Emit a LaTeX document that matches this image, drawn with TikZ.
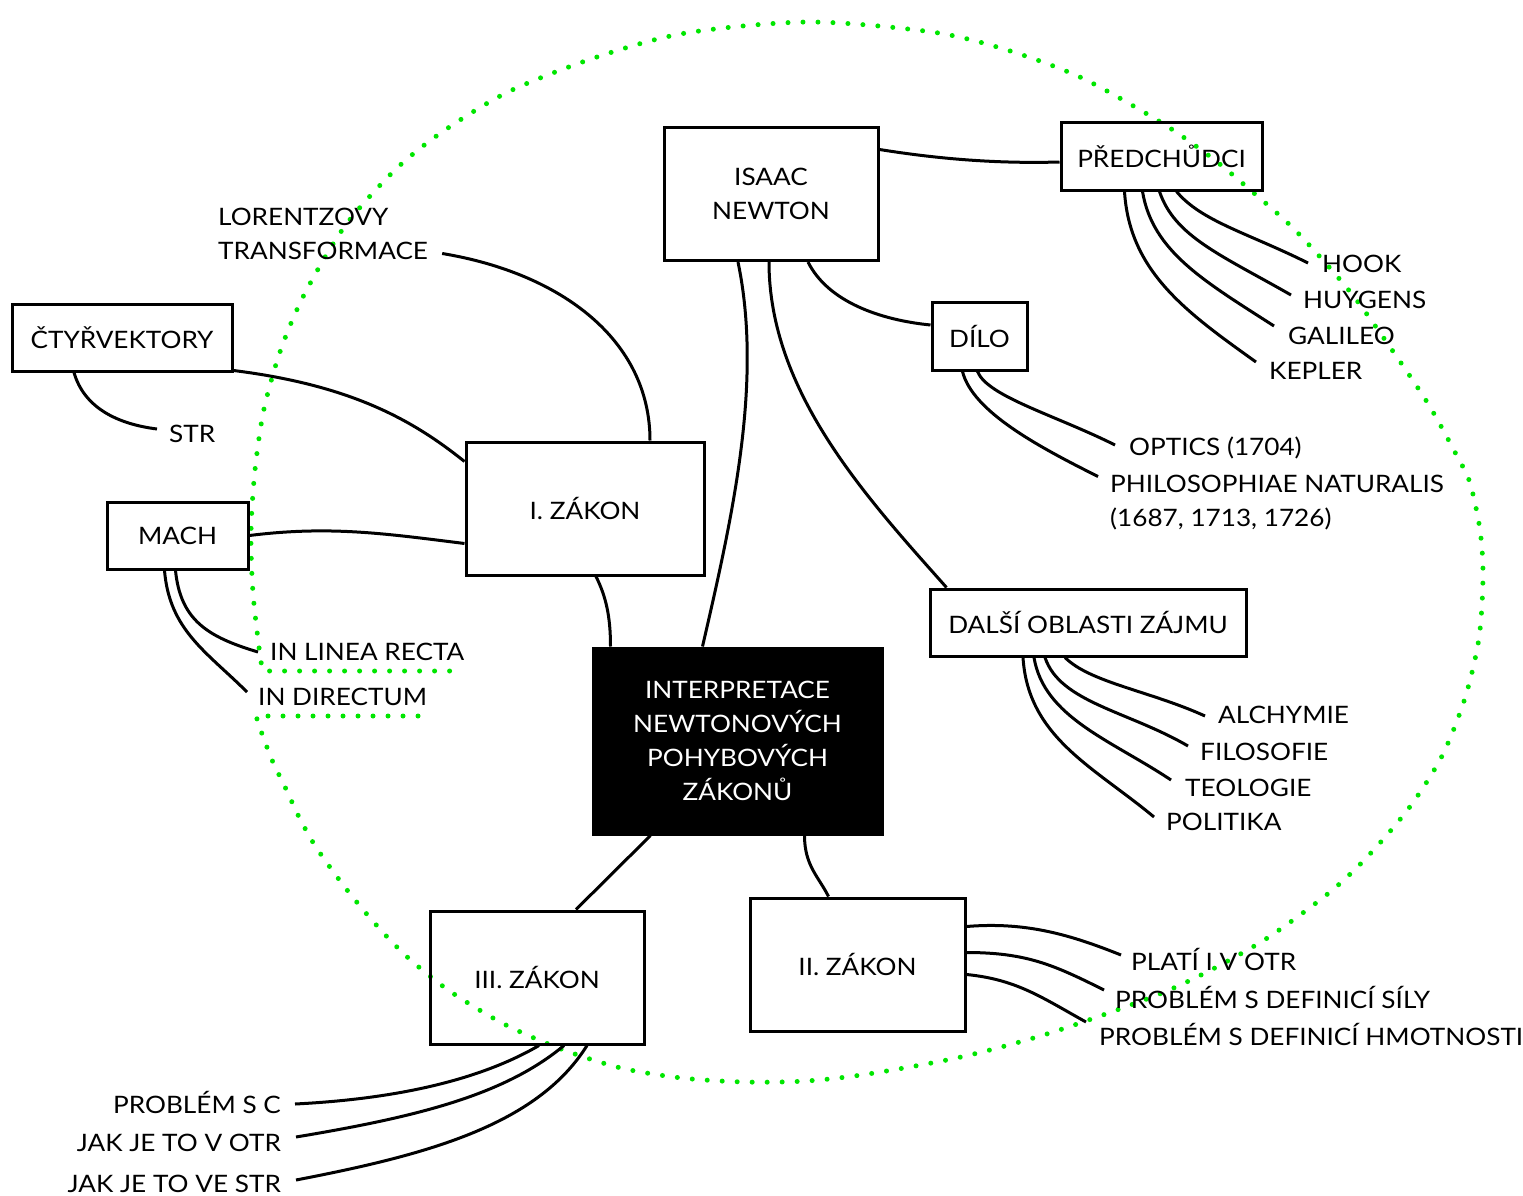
\documentclass[tikz,border=0pt]{standalone}
\usepackage{fontspec}
\setmainfont[FakeStretch=1.09]{Lato}
\definecolor{lasso}{RGB}{0,230,0}
\tikzset{
  box/.style={draw, line width=3pt, align=center, inner sep=0pt},
  root/.style={box, fill=black, text=white},
  leaf/.style={inner sep=0pt, text height=17pt, text depth=0pt},
  note/.style={inner sep=0pt, align=left},
  link/.style={line width=3pt},
  dots/.style={draw=lasso, line width=5pt, line cap=round, dash pattern=on 0pt off 15pt},
}
\begin{document}
\begin{tikzpicture}[x=1pt, y=-1pt, font=\fontsize{24}{34}\selectfont]
  \useasboundingbox (0,0) rectangle (1523,1196);

  % lasso
  \draw[dots] (418,716) -- (256,716) -- plot[smooth] coordinates {
    (261,731) (272,760) (286,789) (299,817) (314,844) (332,870) (351,895)
    (371,919) (392,942) (414,963) (451,992) (504,1024) (561,1049) (621,1068)
    (682,1078) (745,1082) (806,1081) (868,1074) (961,1057) (1050,1033)
    (1152,997) (1207,972) (1261,942) (1300,915) (1336,887) (1369,855)
    (1409,808) (1442,756) (1465,698) (1479,638) (1483,576) (1480,530)
    (1470,483) (1457,456) (1427,402) (1383,337) (1347,288) (1295,230)
    (1248,188) (1212,158) (1162,123) (1082,78) (1007,50) (932,32) (809,22)
    (686,33) (597,57) (510,91) (445,130) (396,169) (345,226) (305,293)
    (281,349) (264,409) (255,470) (251,532) (253,593) (260,655) (263,671)}
    -- (462,671);

  % boxes
  \node[box, minimum width=214pt, minimum height=133pt] (newton) at (771,194) {ISAAC\\NEWTON};
  \node[box, minimum width=201pt, minimum height=67pt] (pred) at (1161.5,156.5) {PŘEDCHŮDCI};
  \node[box, minimum width=95pt, minimum height=68pt] (dilo) at (979.5,336) {DÍLO};
  \node[box, minimum width=220pt, minimum height=67pt] (ctyr) at (122,337.5) {ČTYŘVEKTORY};
  \node[box, minimum width=238pt, minimum height=133pt] (zakon1) at (585,508.5) {I. ZÁKON};
  \node[box, minimum width=141pt, minimum height=67pt] (mach) at (177.5,535.5) {MACH};
  \node[box, minimum width=316pt, minimum height=67pt] (dalsi) at (1088,622.5) {DALŠÍ OBLASTI ZÁJMU};
  \node[root, minimum width=289pt, minimum height=186pt] (center) at (737.5,741) {INTERPRETACE\\NEWTONOVÝCH\\POHYBOVÝCH\\ZÁKONŮ};
  \node[box, minimum width=214pt, minimum height=133pt] (zakon3) at (537,977.5) {III. ZÁKON};
  \node[box, minimum width=215pt, minimum height=133pt] (zakon2) at (857.5,964.5) {II. ZÁKON};

  % labels
  \node[note, anchor=north west] (lorentz) at (218,207.5) {LORENTZOVY\\TRANSFORMACE};
  \node[leaf, anchor=west] (str) at (169,434) {STR};
  \node[leaf, anchor=west] (linea) at (270,652) {IN LINEA RECTA};
  \node[leaf, anchor=west] (directum) at (258,697) {IN DIRECTUM};
  \node[leaf, anchor=west] (hook) at (1322,264) {HOOK};
  \node[leaf, anchor=west] (huygens) at (1303,300) {HUYGENS};
  \node[leaf, anchor=west] (galileo) at (1288,336) {GALILEO};
  \node[leaf, anchor=west] (kepler) at (1269,371) {KEPLER};
  \node[leaf, anchor=west] (optics) at (1129,447) {OPTICS (1704)};
  \node[note, anchor=north west] (philo) at (1110,474.5) {PHILOSOPHIAE NATURALIS\\(1687, 1713, 1726)};
  \node[leaf, anchor=west] (alchymie) at (1218,715) {ALCHYMIE};
  \node[leaf, anchor=west] (filosofie) at (1200,752) {FILOSOFIE};
  \node[leaf, anchor=west] (teologie) at (1185,788) {TEOLOGIE};
  \node[leaf, anchor=west] (politika) at (1166,822) {POLITIKA};
  \node[leaf, anchor=west] (plati) at (1131,962) {PLATÍ I V OTR};
  \node[leaf, anchor=west] (sily) at (1115,1000) {PROBLÉM S DEFINICÍ SÍLY};
  \node[leaf, anchor=west] (hmot) at (1099,1037) {PROBLÉM S DEFINICÍ HMOTNOSTI};
  \node[leaf, anchor=east] (sc) at (281,1105) {PROBLÉM S C};
  \node[leaf, anchor=east] (votr) at (281,1143) {JAK JE TO V OTR};
  \node[leaf, anchor=east] (vestr) at (281,1184) {JAK JE TO VE STR};

  % newton
  \draw[link] ([yshift=-23.5pt]newton.north east) .. controls +(50,8) and +(-70,2) .. ([yshift=-5.5pt]pred.west);
  \draw[link] ([xshift=37pt]newton.south) .. controls +(20,40) and +(-50,-5) .. ([yshift=11pt]dilo.west);
  \draw[link] ([xshift=-33pt]newton.south) .. controls +(25,120) and +(30,-130) .. ([xshift=-35pt]center.north);
  \draw[link] ([xshift=-2pt]newton.south) .. controls +(0,130) and +(-80,-90) .. ([xshift=18pt]dalsi.north west);

  % predchudci
  \draw[link] ([xshift=-37pt]pred.south) .. controls +(5,80) and +(-70,-50) .. ([xshift=-13pt,yshift=9pt]kepler.west);
  \draw[link] ([xshift=-19pt]pred.south) .. controls +(10,60) and +(-70,-45) .. ([xshift=-14pt,yshift=10pt]galileo.west);
  \draw[link] ([xshift=-2pt]pred.south) .. controls +(15,45) and +(-70,-40) .. ([xshift=-12pt,yshift=5pt]huygens.west);
  \draw[link] ([xshift=15pt]pred.south) .. controls +(25,30) and +(-60,-30) .. ([xshift=-14pt,yshift=1pt]hook.west);

  % dilo
  \draw[link] ([xshift=-17pt]dilo.south) .. controls +(10,40) and +(-60,-30) .. ([xshift=-12pt,yshift=-2pt]philo.north west);
  \draw[link] ([xshift=-2pt]dilo.south) .. controls +(10,25) and +(-60,-30) .. ([xshift=-14pt,yshift=2pt]optics.west);

  % I. zakon
  \draw[link] ([xshift=14pt,yshift=6pt]lorentz.south east) .. controls +(120,20) and +(0,-100) .. ([xshift=65pt]zakon1.north);
  \draw[link] ([yshift=2pt]ctyr.south east) .. controls +(120,15) and +(-50,-40) .. ([yshift=-21pt]zakon1.north west);
  \draw[link] ([xshift=-48pt]ctyr.south) .. controls +(10,35) and +(-40,-5) .. ([xshift=-12pt,yshift=5pt]str.west);
  \draw[link] (mach.east) .. controls +(80,-10) and +(-80,-10) .. ([yshift=-35pt]zakon1.west);
  \draw[link] ([xshift=-2pt]mach.south) .. controls +(5,50) and +(-50,-15) .. ([xshift=-12pt]linea.west);
  \draw[link] ([xshift=-13pt]mach.south) .. controls +(5,60) and +(-40,-40) .. ([xshift=-11pt,yshift=5pt]directum.west);
  \draw[link] ([xshift=11pt]zakon1.south) .. controls +(10,20) and +(0,-30) .. ([xshift=-127pt]center.north);

  % center
  \draw[link] ([xshift=-87pt]center.south) -- ([xshift=39pt]zakon3.north);
  \draw[link] ([xshift=67pt]center.south) .. controls +(0,30) and +(-10,-20) .. ([xshift=-29pt]zakon2.north);

  % II. zakon
  \draw[link] ([yshift=38pt]zakon2.east) .. controls +(60,-5) and +(-50,-20) .. ([xshift=-10pt,yshift=7pt]plati.west);
  \draw[link] ([yshift=12pt]zakon2.east) .. controls +(60,0) and +(-50,-25) .. ([xshift=-11pt,yshift=10pt]sily.west);
  \draw[link] ([yshift=-10pt]zakon2.east) .. controls +(50,5) and +(-45,-25) .. ([xshift=-13pt,yshift=15pt]hmot.west);

  % III. zakon
  \draw[link] ([xshift=2pt]zakon3.south) .. controls +(-60,35) and +(100,-5) .. ([xshift=14pt,yshift=1pt]sc.east);
  \draw[link] ([xshift=27pt]zakon3.south) .. controls +(-60,50) and +(120,-20) .. ([xshift=15pt,yshift=6pt]votr.east);
  \draw[link] ([xshift=50pt]zakon3.south) .. controls +(-50,80) and +(130,-25) .. ([xshift=15pt,yshift=4pt]vestr.east);

  % dalsi
  \draw[link] ([xshift=-65pt]dalsi.south) .. controls +(5,80) and +(-60,-50) .. ([xshift=-12pt,yshift=5pt]politika.west);
  \draw[link] ([xshift=-54pt]dalsi.south) .. controls +(10,60) and +(-60,-40) .. ([xshift=-14pt,yshift=8pt]teologie.west);
  \draw[link] ([xshift=-43pt]dalsi.south) .. controls +(15,45) and +(-60,-35) .. ([xshift=-12pt,yshift=6pt]filosofie.west);
  \draw[link] ([xshift=-23pt]dalsi.south) .. controls +(25,25) and +(-55,-25) .. ([xshift=-13pt,yshift=-1pt]alchymie.west);
\end{tikzpicture}
\end{document}
